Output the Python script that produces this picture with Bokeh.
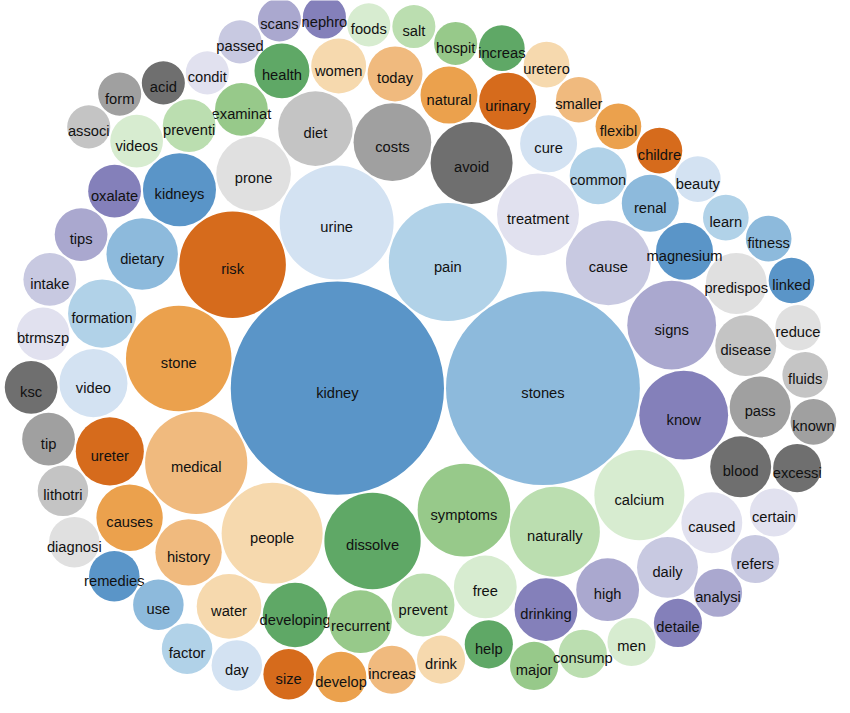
import math
from bokeh.plotting import figure
from bokeh.models import ColumnDataSource, CDSView, IndexFilter, Range1d
from bokeh.core.properties import value
from bokeh.embed import file_html
from bokeh.resources import INLINE

# ---- data (word, frequency), in the order the chart draws them ----
words = ["kidney", "stones", "pain", "urine", "risk", "stone", "medical", "people",
         "dissolve", "symptoms", "naturally", "calcium", "know", "signs", "cause",
         "treatment", "avoid", "costs", "diet", "prone", "kidneys", "dietary",
         "formation", "video", "ureter", "causes", "history", "water", "developing",
         "recurrent", "prevent", "free", "drinking", "high", "daily", "caused",
         "blood", "pass", "disease", "predispos", "magnesium", "renal", "common",
         "cure", "urinary", "natural", "today", "women", "health", "examinat",
         "preventi", "videos", "oxalate", "tips", "intake", "btrmszp", "ksc", "tip",
         "lithotri", "diagnosi", "remedies", "use", "factor", "day", "size",
         "develop", "increas", "drink", "help", "major", "consump", "men",
         "detaile", "analysi", "refers", "certain", "excessi", "known", "fluids",
         "reduce", "linked", "fitness", "learn", "beauty", "childre", "flexibl",
         "smaller", "uretero", "increas", "hospit", "salt", "foods", "nephro",
         "scans", "passed", "condit", "acid", "form", "associ"]

counts = [196, 162, 60, 56, 49, 48, 45, 44,
          40, 37, 35, 35, 34, 34, 31,
          29, 29, 26, 24, 24, 23, 22,
          20, 20, 20, 19, 19, 18, 18,
          17, 17, 17, 17, 17, 16, 16,
          16, 16, 16, 16, 14, 14, 14,
          14, 14, 14, 13, 13, 13, 12,
          12, 12, 12, 12, 12, 12, 12, 12,
          11, 11, 11, 11, 11, 11, 11,
          11, 10, 10, 10, 10, 10, 10,
          10, 10, 10, 10, 10, 9, 9,
          9, 9, 9, 9, 9, 9, 9,
          9, 9, 9, 8, 8, 8, 8,
          8, 8, 8, 8, 8, 8]

palette = ["#5a95c8", "#8dbadc", "#b1d2e8", "#d3e2f2",
           "#d66b1c", "#eba14d", "#f0ba7e", "#f6d9ae",
           "#5fa866", "#97c98a", "#bbdeb0", "#d7ecd0",
           "#8480ba", "#aaa8cf", "#c8c9e1", "#e1e1ef",
           "#6f6f6f", "#a0a0a0", "#c4c4c4", "#e0e0e0"]

PX_PER_UNIT = 7.616   # screen pixels per sqrt(count) unit
GAP_PX = 2.0          # padding between bubbles


# ---- d3 (v3) pack-siblings layout ----
def pack_siblings(r):
    n = len(r)
    x = [0.0] * n
    y = [0.0] * n
    nxt = list(range(n))
    prv = list(range(n))
    bb = [math.inf, -math.inf, math.inf, -math.inf]

    def bound(i):
        bb[0] = min(bb[0], x[i] - r[i]); bb[1] = max(bb[1], x[i] + r[i])
        bb[2] = min(bb[2], y[i] - r[i]); bb[3] = max(bb[3], y[i] + r[i])

    def place(a, b, c):
        db = r[a] + r[c]
        dx = x[b] - x[a]
        dy = y[b] - y[a]
        if db and (dx or dy):
            da = r[b] + r[c]
            dc = dx * dx + dy * dy
            da *= da
            db *= db
            xx = 0.5 + (db - da) / (2 * dc)
            yy = math.sqrt(max(0.0, 2 * da * (db + dc) - (db - dc) ** 2 - da * da)) / (2 * dc)
            x[c] = x[a] + xx * dx + yy * dy
            y[c] = y[a] + xx * dy - yy * dx
        else:
            x[c] = x[a] + db
            y[c] = y[a]

    def intersects(a, b):
        dx = x[b] - x[a]
        dy = y[b] - y[a]
        dr = r[a] + r[b]
        return 0.999 * dr * dr > dx * dx + dy * dy

    def insert(a, b):
        c = nxt[a]
        nxt[a] = b; prv[b] = a; nxt[b] = c; prv[c] = b

    def splice(a, b):
        nxt[a] = b; prv[b] = a

    a = 0
    x[a] = -r[a]; y[a] = 0.0; bound(a)
    if n > 1:
        b = 1
        x[b] = r[b]; y[b] = 0.0; bound(b)
        if n > 2:
            c = 2
            place(a, b, c); bound(c)
            insert(a, c); prv[a] = c
            insert(c, b)
            b = nxt[a]
            i = 3
            while i < n:
                c = i
                place(a, b, c)
                isect = False
                s1 = 1; s2 = 1
                j = nxt[b]
                while j != b:
                    if intersects(j, c):
                        isect = True
                        break
                    j = nxt[j]; s1 += 1
                if isect:
                    k = prv[a]
                    while k != prv[j]:
                        if intersects(k, c):
                            break
                        k = prv[k]; s2 += 1
                    if s1 < s2 or (s1 == s2 and r[b] < r[a]):
                        b = j
                        splice(a, b)
                    else:
                        a = k
                        splice(a, b)
                else:
                    insert(a, c)
                    b = c
                    bound(c)
                    i += 1
    cx = (bb[0] + bb[1]) / 2
    cy = (bb[2] + bb[3]) / 2
    return [v - cx for v in x], [v - cy for v in y]


radii = [math.sqrt(c) for c in counts]
dr = GAP_PX / PX_PER_UNIT / 2
px, py = pack_siblings([rr + dr for rr in radii])
ys = [-v for v in py]   # d3 y grows downward

src = ColumnDataSource(dict(x=px, y=ys, r=radii, word=words,
                            color=[palette[i % 20] for i in range(len(words))]))

# visible bounding box of the bubbles, centred like the reference
xmin = min(px[i] - radii[i] for i in range(len(px)))
xmax = max(px[i] + radii[i] for i in range(len(px)))
ymin = min(ys[i] - radii[i] for i in range(len(ys)))
ymax = max(ys[i] + radii[i] for i in range(len(ys)))
bcx = (xmin + xmax) / 2
bcy = (ymin + ymax) / 2

W, H = 850, 713
FX, FY = 420.0, 348.4   # frame position of the bubble block centre
p = figure(width=W, height=H, output_backend="svg", toolbar_location=None,
           x_range=Range1d(bcx - FX / PX_PER_UNIT, bcx + (W - FX) / PX_PER_UNIT),
           y_range=Range1d(bcy - (H - FY) / PX_PER_UNIT, bcy + FY / PX_PER_UNIT),
           min_border=0)
p.axis.visible = False
p.grid.visible = False
p.outline_line_color = None
p.background_fill_color = "white"
p.border_fill_color = "white"

for i in range(len(words)):
    view = CDSView(filter=IndexFilter([i]))
    p.circle(x="x", y="y", radius="r", source=src, view=view,
             fill_color="color", line_color=None)
    p.text(x="x", y="y", text="word", source=src, view=view,
           text_align="center", text_baseline="alphabetic", y_offset=4.5,
           text_font=value("Liberation Sans"), text_font_size="14.7px",
           text_color="#111111")

open("out.html", "w").write(file_html(p, INLINE))
